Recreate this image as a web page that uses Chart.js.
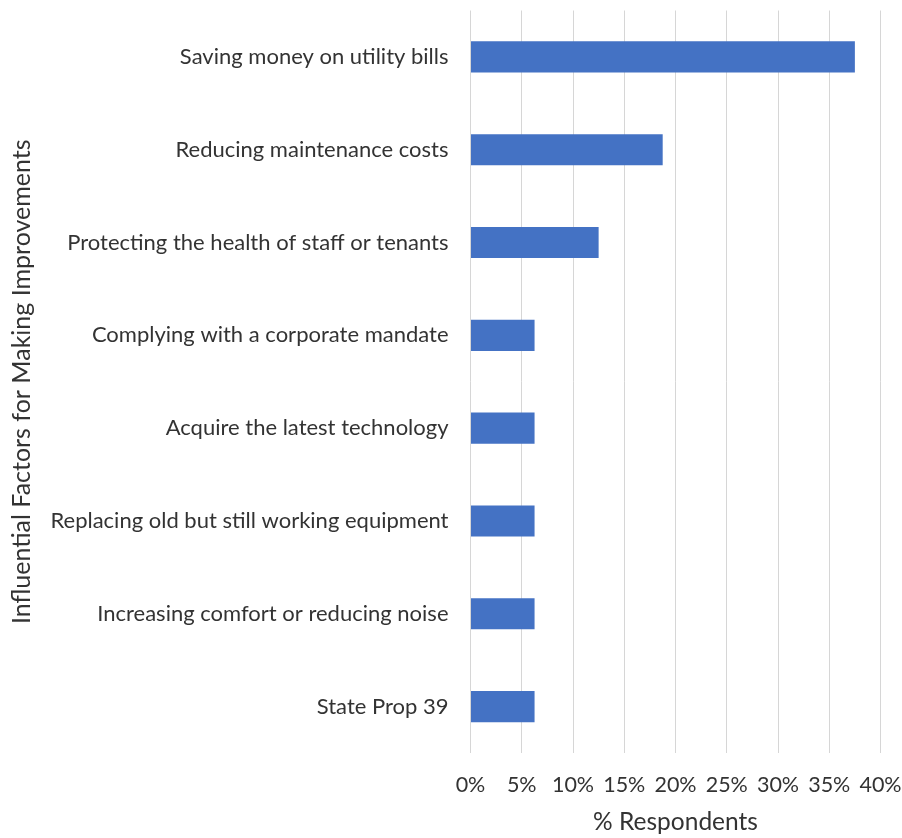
<!DOCTYPE html>
<html>
<head>
<meta charset="utf-8">
<script src="https://cdn.jsdelivr.net/npm/chart.js@4"></script>
<style>
  html, body { margin: 0; padding: 0; background: #fff; }
  #wrap { width: 902px; height: 838px; }
</style>
</head>
<body>
<div id="wrap"><canvas id="factorsChart"></canvas></div>
<script>
const factors = [
  'Saving money on utility bills',
  'Reducing maintenance costs',
  'Protecting the health of staff or tenants',
  'Complying with a corporate mandate',
  'Acquire the latest technology',
  'Replacing old but still working equipment',
  'Increasing comfort or reducing noise',
  'State Prop 39'
];
const respondentsPct = [37.5, 18.75, 12.5, 6.25, 6.25, 6.25, 6.25, 6.25];
const pctTicks = [0, 5, 10, 15, 20, 25, 30, 35, 40];

const textColor = '#333333';
const fontFamily = 'Lato, "Open Sans", sans-serif';

const ctx = document.getElementById('factorsChart').getContext('2d');
const chart = new Chart(ctx, {
  type: 'bar',
  data: {
    labels: factors,
    datasets: [{
      label: '% Respondents',
      data: respondentsPct,
      backgroundColor: '#4472C4',
      borderWidth: 0,
      categoryPercentage: 1,
      barPercentage: 0.335
    }]
  },
  options: {
    indexAxis: 'y',
    responsive: true,
    maintainAspectRatio: false,
    animation: false,
    layout: { padding: { top: 10.5, right: 21.5, left: 0, bottom: 0 } },
    plugins: {
      legend: { display: false },
      tooltip: { enabled: false }
    },
    scales: {
      x: {
        min: 0,
        max: 40,
        afterBuildTicks: scale => {
          scale.ticks = pctTicks.map(v => ({ value: v }));
        },
        afterFit: scale => {
          // keep the edge labels from shrinking the plot
          scale.height = 85;
          scale.paddingLeft = 0;
          scale.paddingRight = 0;
        },
        ticks: {
          color: textColor,
          font: { family: fontFamily, size: 21.5 },
          padding: 19,
          callback: v => v + '%'
        },
        grid: { color: '#d6d6d6', lineWidth: 1, drawTicks: false },
        border: { display: false },
        title: {
          display: true,
          text: '% Respondents',
          color: textColor,
          font: { family: fontFamily, size: 24.5 },
          padding: { top: 0, bottom: 1 }
        }
      },
      y: {
        afterFit: scale => {
          scale.width = 470.5;
          scale.paddingTop = 0;
          scale.paddingBottom = 0;
        },
        ticks: {
          color: textColor,
          font: { family: fontFamily, size: 22 },
          padding: 22,
          autoSkip: false
        },
        grid: { display: false, drawTicks: false },
        border: { display: false },
        title: {
          display: true,
          text: 'Influential Factors for Making Improvements',
          color: textColor,
          font: { family: fontFamily, size: 25 },
          padding: { top: 7, bottom: 0 }
        }
      }
    }
  }
});
</script>
</body>
</html>
